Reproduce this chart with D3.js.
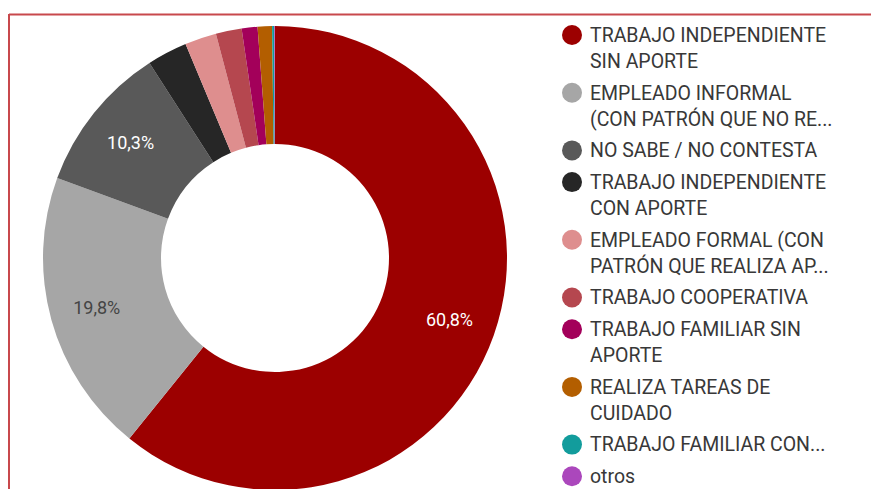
<!DOCTYPE html>
<html lang="es">
<head>
<meta charset="utf-8">
<title>Donut</title>
<script src="https://cdn.jsdelivr.net/npm/d3@7"></script>
<style>
  body { margin: 0; background: #ffffff; overflow: hidden; }
  .legend_text { font-family: Roboto, sans-serif; font-size: 19.5px; fill: #383838; }
  .slice_label { font-family: Roboto, sans-serif; font-size: 18px; text-anchor: middle; }
</style>
</head>
<body>
<script>
// categories and values (percent)
var categories = [
  ["TRABAJO INDEPENDIENTE", "SIN APORTE"],
  ["EMPLEADO INFORMAL", "(CON PATRÓN QUE NO RE..."],
  ["NO SABE / NO CONTESTA"],
  ["TRABAJO INDEPENDIENTE", "CON APORTE"],
  ["EMPLEADO FORMAL (CON", "PATRÓN QUE REALIZA AP..."],
  ["TRABAJO COOPERATIVA"],
  ["TRABAJO FAMILIAR SIN", "APORTE"],
  ["REALIZA TAREAS DE", "CUIDADO"],
  ["TRABAJO FAMILIAR CON..."],
  ["otros"]
];
var values = [60.8, 19.8, 10.3, 2.8, 2.2, 1.8, 1.1, 1.0, 0.15, 0.05];
var colors = ["#9c0000", "#a6a6a6", "#595959", "#262626", "#de8e8e",
              "#b5474f", "#a3005a", "#b35e00", "#129c9c", "#ab47bc"];
var labelText = ["60,8%", "19,8%", "10,3%"];
var labelColor = ["#ffffff", "#444444", "#ffffff"];

var width = 871, height = 489;
var cx = 275, cy = 258;
var outerR = 232, innerR = 114;
var labelR = 185;

var svg = d3.select("body").append("svg")
    .attr("width", width)
    .attr("height", height);

// red frame (top and left edge)
svg.append("line")
    .attr("x1", 9).attr("y1", 14.5).attr("x2", width).attr("y2", 14.5)
    .attr("stroke", "#c8484c").attr("stroke-width", 2);
svg.append("line")
    .attr("x1", 9).attr("y1", 14).attr("x2", 9).attr("y2", height)
    .attr("stroke", "#c8484c").attr("stroke-width", 2);

var pie = d3.pie().sort(null).value(function(d) { return d; });
var arc = d3.arc().innerRadius(innerR).outerRadius(outerR);
var labelArc = d3.arc().innerRadius(labelR).outerRadius(labelR);

var arcs = pie(values);

var g = svg.append("g").attr("transform", "translate(" + cx + "," + cy + ")");

g.selectAll("path")
  .data(arcs)
  .enter()
  .append("path")
  .attr("d", arc)
  .attr("fill", function(d, i) { return colors[i]; });

g.selectAll("text")
  .data(arcs.slice(0, labelText.length))
  .enter()
  .append("text")
  .attr("class", "slice_label")
  .attr("transform", function(d) { return "translate(" + labelArc.centroid(d) + ")"; })
  .attr("dy", "0.35em")
  .attr("fill", function(d, i) { return labelColor[i]; })
  .text(function(d, i) { return labelText[i]; });

// legend
var lineH = 26, gapY = 5.7;
var legendX = 572, legendY = 35;
var legend = svg.append("g");
var y = legendY;
categories.forEach(function(lines, i) {
  var item = legend.append("g").attr("transform", "translate(" + legendX + "," + y + ")");
  item.append("circle")
    .attr("r", 10)
    .attr("fill", colors[i]);
  lines.forEach(function(t, k) {
    item.append("text")
      .attr("class", "legend_text")
      .attr("x", 18)
      .attr("y", k * lineH)
      .attr("dy", "0.35em")
      .text(t);
  });
  y += lines.length * lineH + gapY;
});
</script>
</body>
</html>
